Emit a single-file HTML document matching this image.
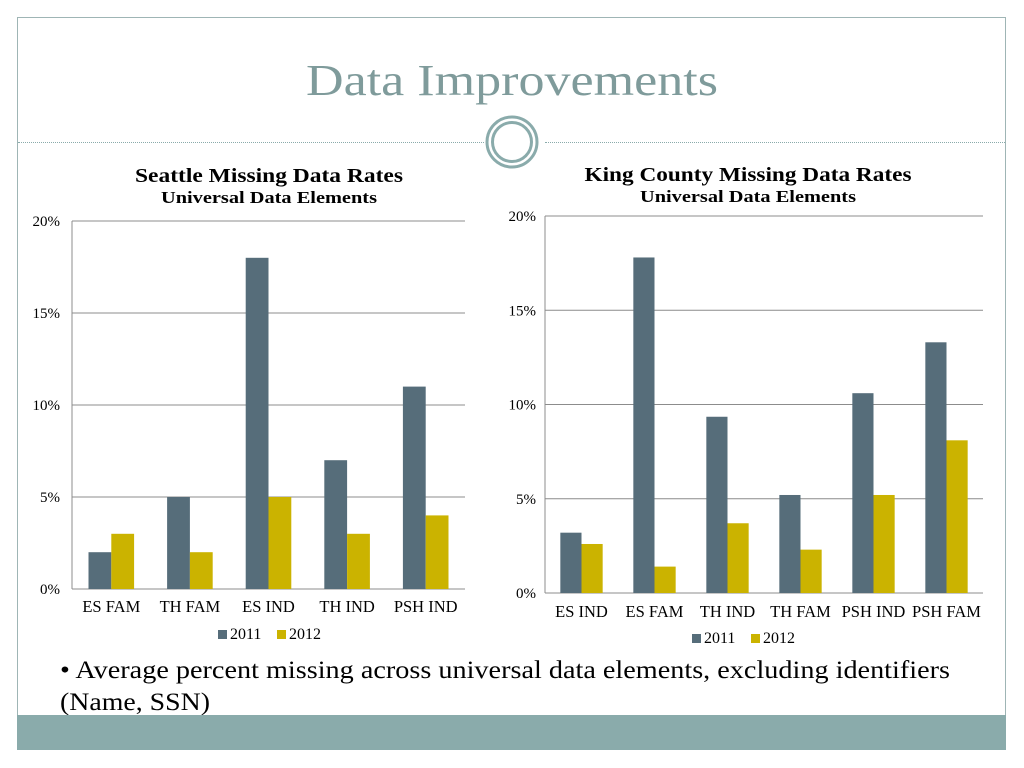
<!DOCTYPE html>
<html><head><meta charset="utf-8"><style>
body{margin:0;width:1024px;height:768px;background:#fff;position:relative;overflow:hidden;font-family:"Liberation Serif",serif}
.frame{position:absolute;left:17px;top:17px;width:989px;height:733px;border:1px solid #9fb5b5;box-sizing:border-box}
.band{position:absolute;left:17px;top:715px;width:989px;height:35px;background:#8aabab}
.rule{position:absolute;top:142px;border-top:1px dotted #8aabab}
</style></head><body>
<div class="frame"></div>
<div class="rule" style="left:18px;width:466px"></div>
<div class="rule" style="left:545px;width:460px"></div>
<svg style="position:absolute;left:484px;top:114px" width="56" height="56">
<circle cx="28" cy="28" r="25" fill="#fff" stroke="#8aabab" stroke-width="3"/>
<circle cx="28" cy="28" r="19.5" fill="none" stroke="#8aabab" stroke-width="3"/></svg>
<svg id="c" style="position:absolute;left:0;top:0" width="1024" height="768" font-family="Liberation Serif, serif">
<text x="306" y="95" font-size="44" fill="#7f9b9b" textLength="412" lengthAdjust="spacingAndGlyphs">Data Improvements</text>
<text x="60" y="678" font-size="25" textLength="890" lengthAdjust="spacingAndGlyphs">• Average percent missing across universal data elements, excluding identifiers</text>
<text x="60" y="710" font-size="25" textLength="150" lengthAdjust="spacingAndGlyphs">(Name, SSN)</text>
</svg>
<div class="band"></div>
<script>
const seaCats=["ES FAM","TH FAM","ES IND","TH IND","PSH IND"];
const sea2011=[2,5,18,7,11];
const sea2012=[3,2,5,3,4];
const kcCats=["ES IND","ES FAM","TH IND","TH FAM","PSH IND","PSH FAM"];
const kc2011=[3.2,17.8,9.35,5.2,10.6,13.3];
const kc2012=[2.6,1.4,3.7,2.3,5.2,8.1];
const ticks=[0,5,10,15,20];
const tickLabels=["0%","5%","10%","15%","20%"];
const svg=document.getElementById('c');const NS="http://www.w3.org/2000/svg";
function mk(t,a,txt){const e=document.createElementNS(NS,t);for(const k in a)e.setAttribute(k,a[k]);if(txt!=null)e.textContent=txt;svg.appendChild(e);return e;}
function chart(p){
 const y=v=>p.y0-(v/20)*(p.y0-p.y20);
 const cw=(p.x1-p.x0)/p.cats.length;
 let e=mk('text',{x:p.cx,y:p.ty,'text-anchor':'middle','font-size':20,'font-weight':'bold',textLength:p.tw,lengthAdjust:'spacingAndGlyphs'},p.title);
 
 e=mk('text',{x:p.cx,y:p.ty+21,'text-anchor':'middle','font-size':17,'font-weight':'bold',textLength:216,lengthAdjust:'spacingAndGlyphs'},'Universal Data Elements');
 
 ticks.forEach((t,i)=>{
  e=mk('line',{x1:p.x0,x2:p.x1,y1:y(t),y2:y(t),stroke:'#8c8c8c','stroke-width':1});
  
  e=mk('text',{x:p.lx,y:y(t)+5,'text-anchor':'end','font-size':15},tickLabels[i]);
  
 });
 e=mk('line',{x1:p.x0,x2:p.x0,y1:p.y20,y2:p.y0,stroke:'#8c8c8c'});
 
 const bw=cw*0.29,off=(cw-2*bw)/2;
 p.cats.forEach((c,i)=>{
  const bx=p.x0+i*cw+off;
  e=mk('rect',{x:bx,y:y(p.a[i]),width:bw,height:y(0)-y(p.a[i]),fill:'#566d7a'});
  
  e=mk('rect',{x:bx+bw,y:y(p.b[i]),width:bw,height:y(0)-y(p.b[i]),fill:'#cbb300'});
  
  e=mk('text',{x:p.x0+i*cw+cw/2,y:p.y0+p.xl,'text-anchor':'middle','font-size':16.5},c);
  
 });
 const lg=p.lgx,ly=p.lgy;
 e=mk('rect',{x:lg,y:ly-9,width:9,height:9,fill:'#566d7a'});
 
 e=mk('text',{x:lg+12,y:ly,'font-size':16},'2011');
 
 e=mk('rect',{x:lg+59,y:ly-9,width:9,height:9,fill:'#cbb300'});
 
 e=mk('text',{x:lg+71,y:ly,'font-size':16},'2012');
 
}
chart({id:'seattle',title:'Seattle Missing Data Rates',tw:268,cx:269,ty:182,x0:72,x1:465,y0:589,y20:221,lx:60,xl:23,lgx:218,lgy:639,cats:seaCats,a:sea2011,b:sea2012});
chart({id:'king-county',title:'King County Missing Data Rates',tw:327,cx:748,ty:181,x0:545,x1:983,y0:593,y20:216,lx:536,xl:24,lgx:692,lgy:643,cats:kcCats,a:kc2011,b:kc2012});
</script>
</body></html>
